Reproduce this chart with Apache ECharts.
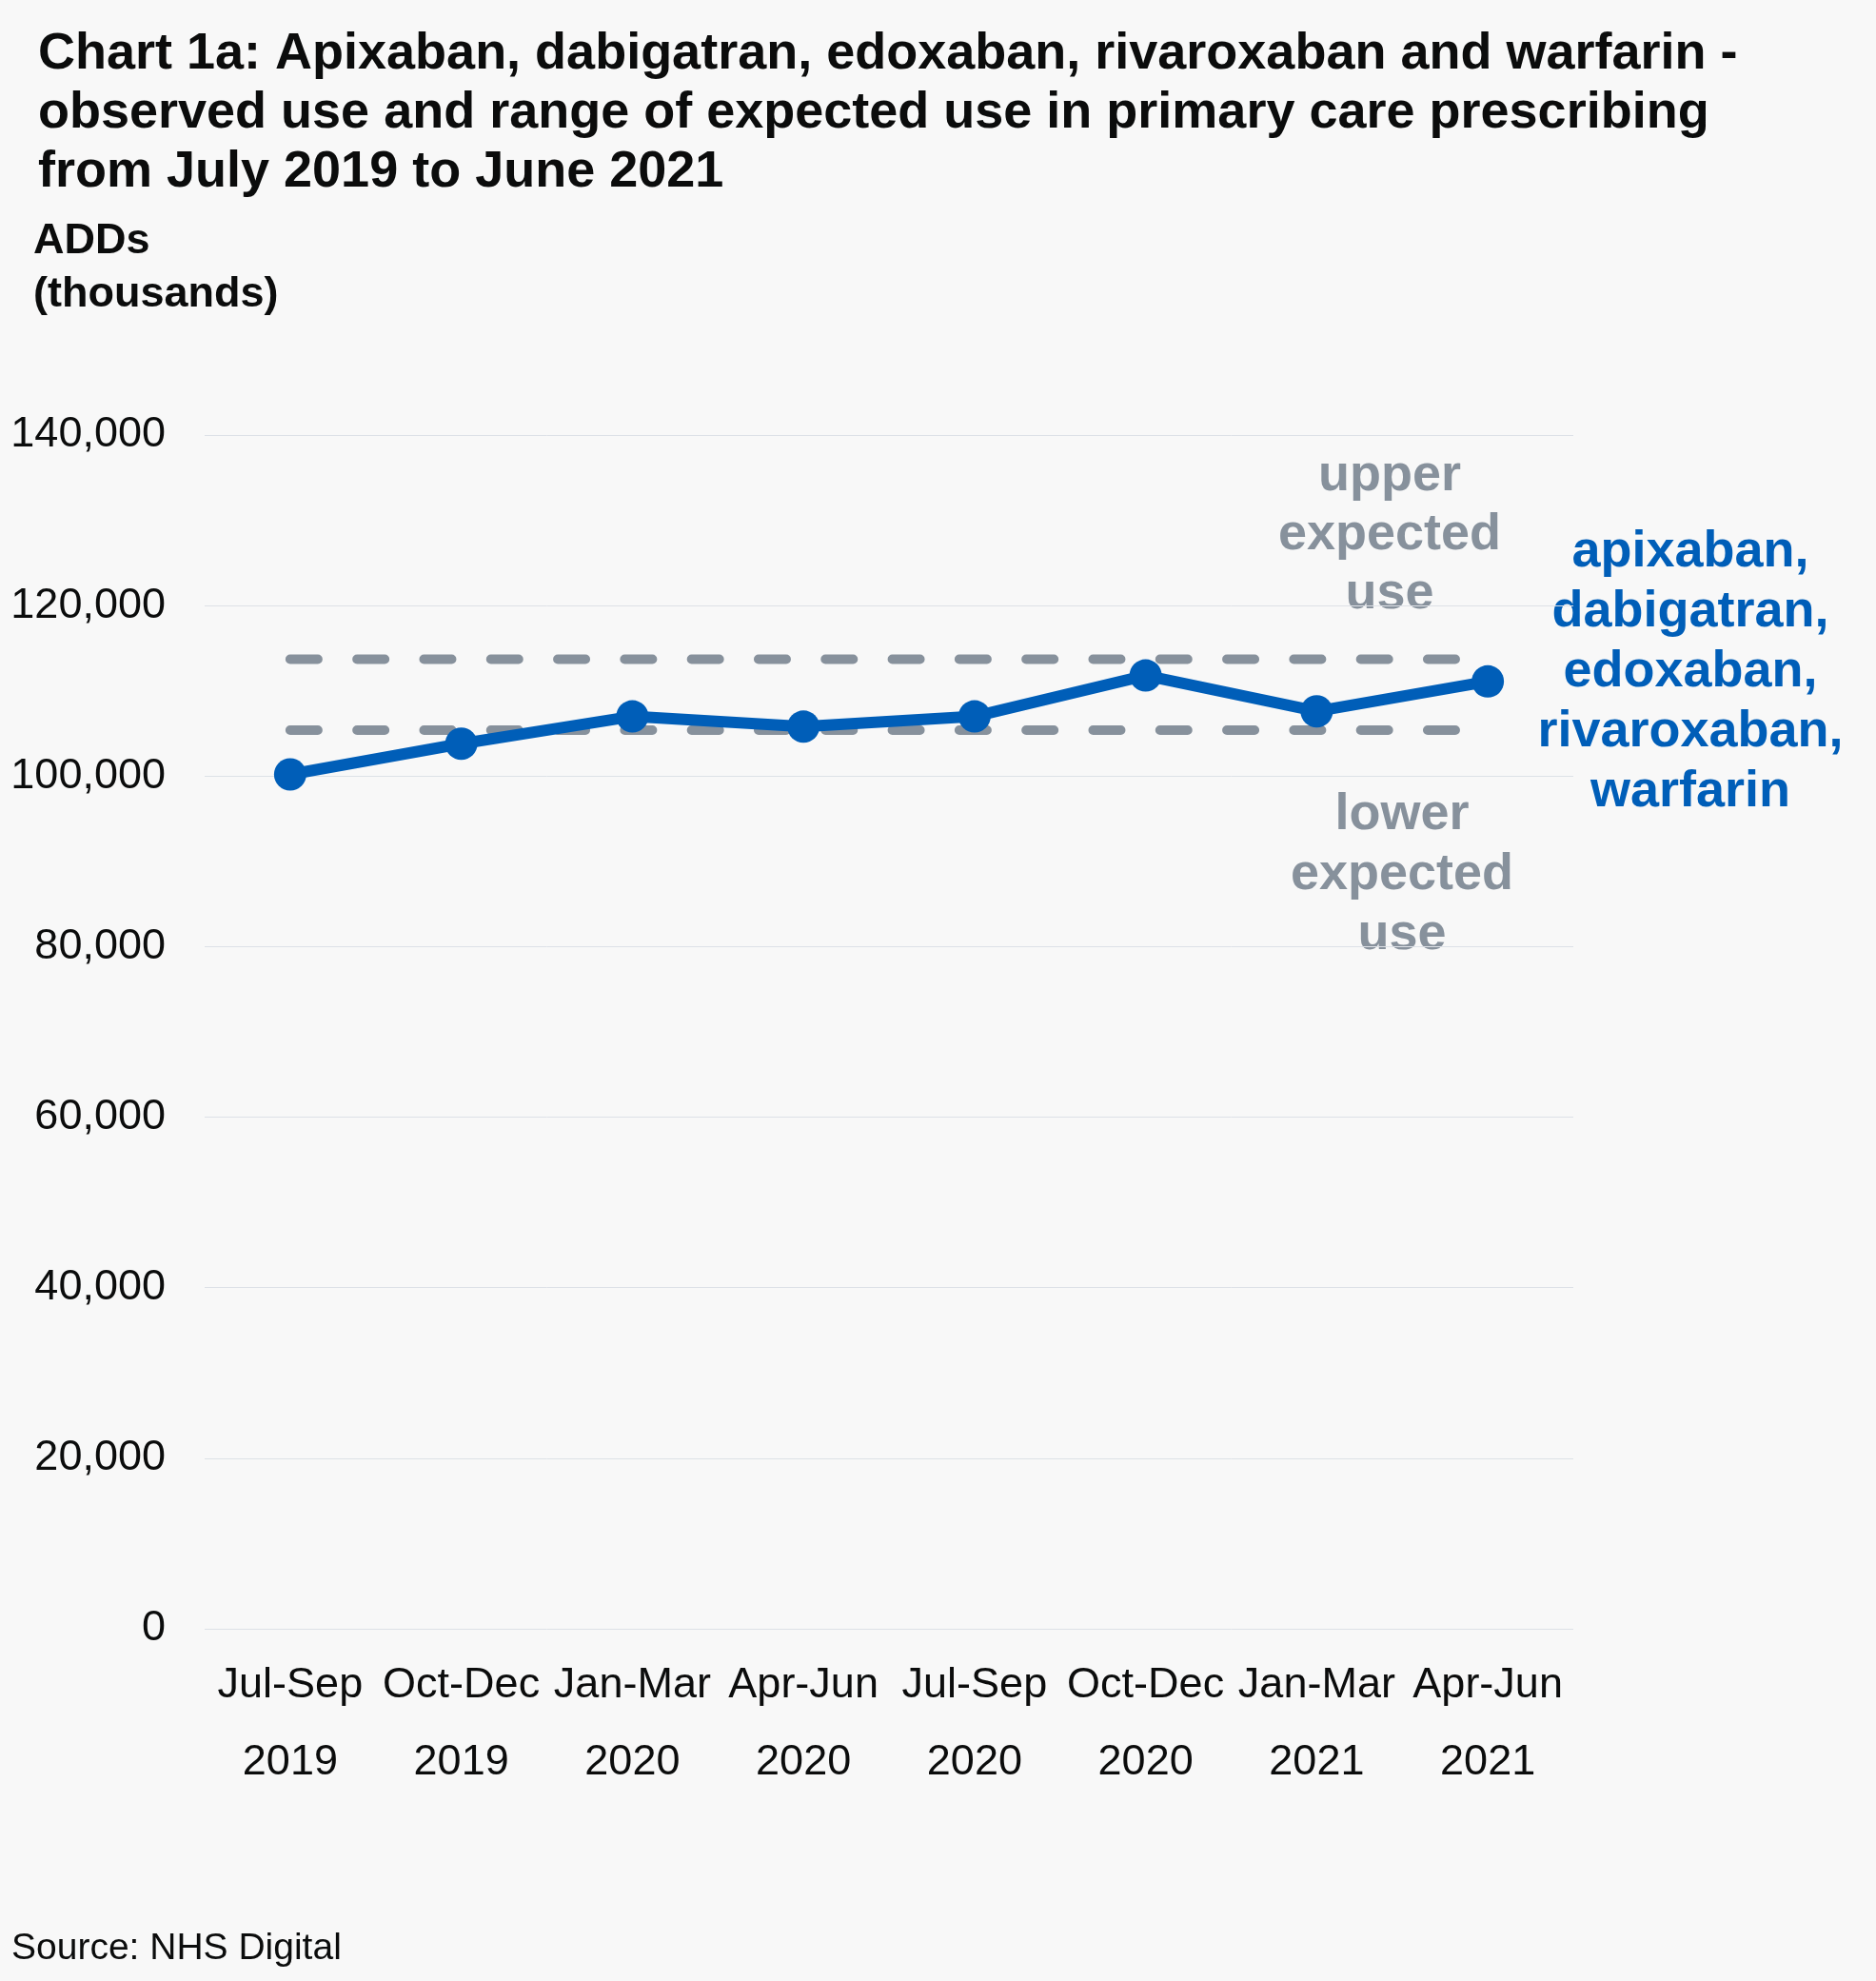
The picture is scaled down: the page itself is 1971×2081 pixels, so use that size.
<!DOCTYPE html>
<html>
<head>
<meta charset="utf-8">
<script src="https://cdn.jsdelivr.net/npm/echarts@6/dist/echarts.min.js"></script>
<style>
  html, body { margin: 0; padding: 0; background: #f8f8f8; }
  #chart { width: 1971px; height: 2081px; }
</style>
</head>
<body>
<div id="chart"></div>
<script>
// quarters on the x axis
var quarters = ['Jul-Sep', 'Oct-Dec', 'Jan-Mar', 'Apr-Jun', 'Jul-Sep', 'Oct-Dec', 'Jan-Mar', 'Apr-Jun'];
var years = ['2019', '2019', '2020', '2020', '2020', '2020', '2021', '2021'];

// ADDs (thousands)
var observed = [100200, 103800, 107000, 105800, 107000, 111800, 107600, 111100];
var upperExpected = [113700, 113700, 113700, 113700, 113700, 113700, 113700, 113700];
var lowerExpected = [105400, 105400, 105400, 105400, 105400, 105400, 105400, 105400];

var yTicks = [0, 20000, 40000, 60000, 80000, 100000, 120000, 140000];

var FONT = '"Liberation Sans", Arial, Helvetica, sans-serif';
var BLUE = '#005eb8';
var GREY = '#87919c';

var categories = quarters.map(function (q, i) { return q + '\n' + years[i]; });

var chart = echarts.init(document.getElementById('chart'));

var option = {
    backgroundColor: '#f8f8f8',
    animation: false,
    title: {
        text: 'Chart 1a: Apixaban, dabigatran, edoxaban, rivaroxaban and warfarin -\nobserved use and range of expected use in primary care prescribing\nfrom July 2019 to June 2021',
        left: 40,
        top: 26,
        padding: 0,
        textStyle: {
            fontFamily: FONT,
            fontSize: 54,
            fontWeight: 'bold',
            color: '#0b0c0c',
            lineHeight: 62
        }
    },
    grid: {
        left: 215,
        right: 318,
        top: 457,
        bottom: 370,
        containLabel: false
    },
    xAxis: {
        type: 'category',
        data: categories,
        boundaryGap: true,
        axisLine: { show: false },
        axisTick: { show: false },
        axisLabel: {
            fontFamily: FONT,
            fontSize: 45,
            color: '#0b0c0c',
            lineHeight: 81,
            margin: 19,
            interval: 0
        }
    },
    yAxis: {
        type: 'value',
        min: yTicks[0],
        max: yTicks[yTicks.length - 1],
        interval: 20000,
        axisLine: { show: false },
        axisTick: { show: false },
        splitLine: { lineStyle: { color: '#dde1e7', width: 1 } },
        axisLabel: {
            fontFamily: FONT,
            fontSize: 45,
            color: '#0b0c0c',
            margin: 41,
            padding: [8, 0, 0, 0],
            formatter: function (v) {
                return String(v).replace(/\B(?=(\d{3})+(?!\d))/g, ',');
            }
        }
    },
    series: [
        {
            name: 'upper expected use',
            type: 'line',
            data: upperExpected,
            symbol: 'none',
            z: 2,
            lineStyle: { color: GREY, width: 10, type: [29, 41.3], cap: 'round' }
        },
        {
            name: 'lower expected use',
            type: 'line',
            data: lowerExpected,
            symbol: 'none',
            z: 2,
            lineStyle: { color: GREY, width: 10, type: [29, 41.3], cap: 'round' }
        },
        {
            name: 'observed',
            type: 'line',
            data: observed,
            symbol: 'circle',
            symbolSize: 34,
            z: 5,
            itemStyle: { color: BLUE },
            lineStyle: { color: BLUE, width: 12 }
        }
    ],
    graphic: [
        {
            type: 'text',
            style: {
                text: 'ADDs\n(thousands)',
                x: 35, y: 226,
                textVerticalAlign: 'top',
                font: 'bold 45px ' + FONT,
                lineHeight: 56,
                fill: '#0b0c0c'
            }
        },
        {
            type: 'text',
            style: {
                text: 'upper\nexpected\nuse',
                x: 1460, y: 562,
                textAlign: 'center',
                textVerticalAlign: 'middle',
                font: 'bold 54px ' + FONT,
                lineHeight: 62,
                fill: GREY
            }
        },
        {
            type: 'text',
            style: {
                text: 'lower\nexpected\nuse',
                x: 1473, y: 919,
                textAlign: 'center',
                textVerticalAlign: 'middle',
                font: 'bold 54px ' + FONT,
                lineHeight: 63,
                fill: GREY
            }
        },
        {
            type: 'text',
            style: {
                text: 'apixaban,\ndabigatran,\nedoxaban,\nrivaroxaban,\nwarfarin',
                x: 1776, y: 706,
                textAlign: 'center',
                textVerticalAlign: 'middle',
                font: 'bold 54px ' + FONT,
                lineHeight: 63,
                fill: BLUE
            }
        },
        {
            type: 'text',
            style: {
                text: 'Source: NHS Digital',
                x: 12, y: 2047,
                textVerticalAlign: 'middle',
                font: '39px ' + FONT,
                fill: '#0b0c0c'
            }
        }
    ]
};

chart.setOption(option);
</script>
</body>
</html>
